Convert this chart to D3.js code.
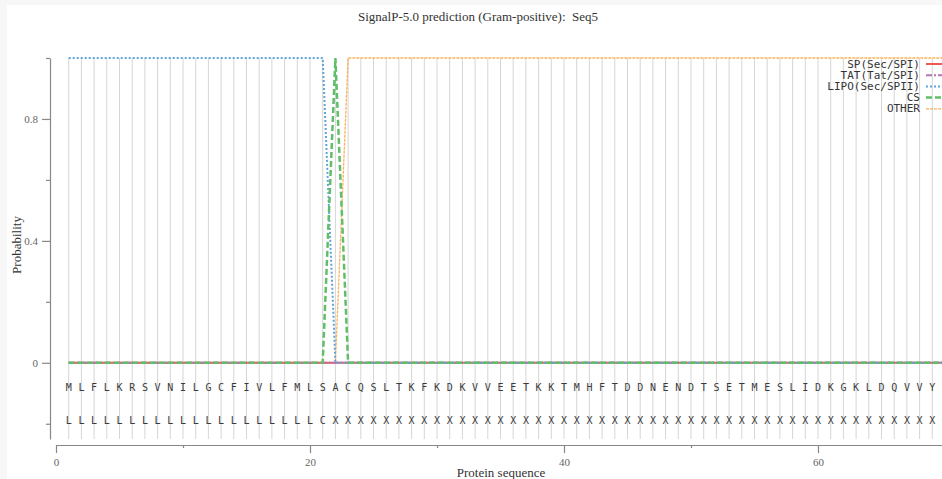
<!DOCTYPE html>
<html>
<head>
<meta charset="utf-8">
<script src="https://cdn.jsdelivr.net/npm/d3@7"></script>
<style>
html,body{margin:0;padding:0;background:#f7f7f7;}
svg{display:block;}
</style>
</head>
<body>
<svg id="chart" width="942" height="479"></svg>
<script>
const titleText = "SignalP-5.0 prediction (Gram-positive):  Seq5";
const sequence = ["M","L","F","L","K","R","S","V","N","I","L","G","C","F","I","V","L","F","M","L","S","A","C","Q","S","L","T","K","F","K","D","K","V","V","E","E","T","K","K","T","M","H","F","T","D","D","N","E","N","D","T","S","E","T","M","E","S","L","I","D","K","G","K","L","D","Q","V","V","Y"];
const labels = ["L","L","L","L","L","L","L","L","L","L","L","L","L","L","L","L","L","L","L","L","C","X","X","X","X","X","X","X","X","X","X","X","X","X","X","X","X","X","X","X","X","X","X","X","X","X","X","X","X","X","X","X","X","X","X","X","X","X","X","X","X","X","X","X","X","X","X","X","X"];
const positions = [1,2,3,4,5,6,7,8,9,10,11,12,13,14,15,16,17,18,19,20,21,22,23,24,25,26,27,28,29,30,31,32,33,34,35,36,37,38,39,40,41,42,43,44,45,46,47,48,49,50,51,52,53,54,55,56,57,58,59,60,61,62,63,64,65,66,67,68,69,70];
const spValues    = [0,0,0,0,0,0,0,0,0,0,0,0,0,0,0,0,0,0,0,0,0,0,0,0,0,0,0,0,0,0,0,0,0,0,0,0,0,0,0,0,0,0,0,0,0,0,0,0,0,0,0,0,0,0,0,0,0,0,0,0,0,0,0,0,0,0,0,0,0,0];
const tatValues   = [0,0,0,0,0,0,0,0,0,0,0,0,0,0,0,0,0,0,0,0,0,0,0,0,0,0,0,0,0,0,0,0,0,0,0,0,0,0,0,0,0,0,0,0,0,0,0,0,0,0,0,0,0,0,0,0,0,0,0,0,0,0,0,0,0,0,0,0,0,0];
const lipoValues  = [1,1,1,1,1,1,1,1,1,1,1,1,1,1,1,1,1,1,1,1,1,0,0,0,0,0,0,0,0,0,0,0,0,0,0,0,0,0,0,0,0,0,0,0,0,0,0,0,0,0,0,0,0,0,0,0,0,0,0,0,0,0,0,0,0,0,0,0,0,0];
const csValues    = [0,0,0,0,0,0,0,0,0,0,0,0,0,0,0,0,0,0,0,0,0,1,0,0,0,0,0,0,0,0,0,0,0,0,0,0,0,0,0,0,0,0,0,0,0,0,0,0,0,0,0,0,0,0,0,0,0,0,0,0,0,0,0,0,0,0,0,0,0,0];
const otherValues = [0,0,0,0,0,0,0,0,0,0,0,0,0,0,0,0,0,0,0,0,0,0,1,1,1,1,1,1,1,1,1,1,1,1,1,1,1,1,1,1,1,1,1,1,1,1,1,1,1,1,1,1,1,1,1,1,1,1,1,1,1,1,1,1,1,1,1,1,1,1];
const seriesNames = ["SP(Sec/SPI)","TAT(Tat/SPI)","LIPO(Sec/SPII)","CS","OTHER"];
const yMajorTicks = [0, 0.4, 0.8];
const yMinorTicks = [-0.2, 0.2, 0.6, 1.0];
const xMajorTicks = [0, 20, 40, 60];
const xMinorTicks = [10, 30, 50];

const svg = d3.select("#chart");
svg.append("rect").attr("x",7).attr("y",5).attr("width",935).attr("height",474).attr("fill","#fff");

const x = d3.scaleLinear().domain([0,70]).range([56,945]);
const y = d3.scaleLinear().domain([-0.25,1]).range([439,58]);

const styles = [
  {color:"#F15854", dash:null, width:2},
  {color:"#B276B2", dash:"6,2,2,2", width:2},
  {color:"#5DA5DA", dash:"2,2", width:2},
  {color:"#60BD68", dash:"6,3", width:2.5},
  {color:"#FAA43A", dash:"3,1", width:1.3, opacity:0.85}
];
const seriesData = [spValues, tatValues, lipoValues, csValues, otherValues];

// grid lines
svg.append("g").selectAll("line").data(positions).join("line")
  .attr("x1",d=>x(d)).attr("x2",d=>x(d))
  .attr("y1",y(1)).attr("y2",y(-0.25))
  .attr("stroke","#d6d6d6").attr("stroke-width",1);

// y axis
const yAxisMajor = d3.axisLeft(y).tickValues(yMajorTicks).tickSize(8).tickSizeOuter(0)
  .tickFormat(d=>d===0?"0":d3.format(".1f")(d));
const gy = svg.append("g").attr("transform","translate(50,0)").call(yAxisMajor);
const gy2 = svg.append("g").attr("transform","translate(50,0)")
  .call(d3.axisLeft(y).tickValues(yMinorTicks).tickSize(4).tickSizeOuter(0).tickFormat(""));
gy2.select(".domain").remove();
[gy,gy2].forEach(g=>{
  g.select(".domain").attr("stroke","#888").attr("stroke-width",1.2);
  g.selectAll(".tick line").attr("stroke","#888").attr("stroke-width",1.2);
  g.selectAll(".tick text").attr("fill","#666").attr("font-family","Liberation Serif").attr("font-size",11).attr("dx",-1);
});

// x axis
const gx = svg.append("g").attr("transform","translate(0,445)")
  .call(d3.axisBottom(x).tickValues(xMajorTicks).tickSize(8).tickSizeOuter(0).tickFormat(d3.format("d")));
const gx2 = svg.append("g").attr("transform","translate(0,445)")
  .call(d3.axisBottom(x).tickValues(xMinorTicks).tickSize(3).tickSizeOuter(0).tickFormat(""));
gx2.select(".domain").remove();
[gx,gx2].forEach(g=>{
  g.select(".domain").attr("stroke","#888").attr("stroke-width",1.2);
  g.selectAll(".tick line").attr("stroke","#888").attr("stroke-width",1.2);
  g.selectAll(".tick text").attr("fill","#666").attr("font-family","Liberation Serif").attr("font-size",11).attr("dy","0.9em");
});

// sequence letters
svg.append("g").selectAll("text").data(sequence).join("text")
  .attr("x",(d,i)=>x(positions[i])).attr("y",y(-0.08))
  .attr("text-anchor","middle").attr("dominant-baseline","central")
  .attr("font-family","DejaVu Sans Mono").attr("font-size",10).attr("fill","#3a3a3a")
  .text(d=>d);
svg.append("g").selectAll("text").data(labels).join("text")
  .attr("x",(d,i)=>x(positions[i])).attr("y",y(-0.19))
  .attr("text-anchor","middle").attr("dominant-baseline","central")
  .attr("font-family","DejaVu Sans Mono").attr("font-size",10).attr("fill","#3a3a3a")
  .text(d=>d);

// lines
const line = d3.line().x((d,i)=>x(positions[i])).y(d=>y(d));
const drawOrder = [4,0,1,2,3];
drawOrder.forEach(k=>{
  const s = styles[k];
  svg.append("path").datum(seriesData[k]).attr("d",line)
    .attr("fill","none").attr("stroke",s.color).attr("stroke-width",s.width)
    .attr("stroke-dasharray",s.dash).attr("opacity",s.opacity||1);
});

// legend
seriesNames.forEach((n,i)=>{
  const ly = 64 + i*11.2;
  svg.append("text").attr("x",920).attr("y",ly).attr("text-anchor","end")
    .attr("dominant-baseline","central")
    .attr("font-family","DejaVu Sans Mono").attr("font-size",11).attr("fill","#333").text(n);
  const s = styles[i];
  svg.append("line").attr("x1",926).attr("x2",948).attr("y1",ly).attr("y2",ly)
    .attr("stroke",s.color).attr("stroke-width",s.width).attr("stroke-dasharray",s.dash).attr("opacity",s.opacity||1);
});

// title and labels
svg.append("text").attr("x",478).attr("y",21).attr("text-anchor","middle")
  .attr("xml:space","preserve").style("white-space","pre")
  .attr("font-family","Liberation Serif").attr("font-size",13).attr("fill","#333").text(titleText);
svg.append("text").attr("transform","translate(21,245) rotate(-90)").attr("text-anchor","middle")
  .attr("font-family","Liberation Serif").attr("font-size",13).attr("fill","#333").text("Probability");
svg.append("text").attr("x",501).attr("y",477).attr("text-anchor","middle")
  .attr("font-family","Liberation Serif").attr("font-size",13).attr("fill","#333").text("Protein sequence");
</script>
</body>
</html>
